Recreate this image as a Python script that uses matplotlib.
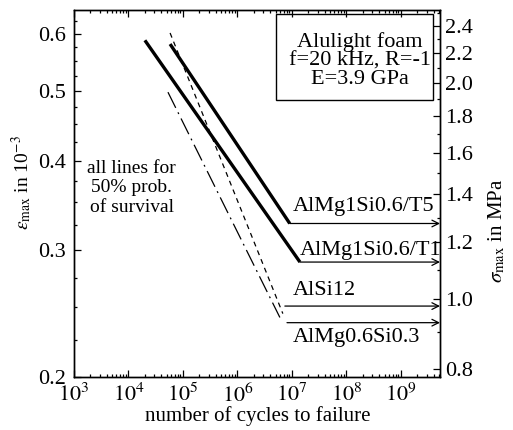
import matplotlib
matplotlib.use('Agg')
import matplotlib.pyplot as plt
from matplotlib.patches import Rectangle
from matplotlib.ticker import FixedLocator, NullFormatter, LogLocator, FuncFormatter
import numpy as np

plt.rcParams['font.family'] = ['Liberation Serif', 'DejaVu Serif']
plt.rcParams['mathtext.fontset'] = 'stix'
plt.rcParams['font.size'] = 15

# Young's modulus in GPa (sigma [MPa] = E * eps [1e-3])
E_gpa = 3.9

names = ['AlMg1Si0.6/T5', 'AlMg1Si0.6/T1', 'AlSi12', 'AlMg0.6Si0.3']
# sloped part of each S-N line
n_start = [5.8e4, 2.0e4, 5.8e4, 5.3e4]
eps_start = [0.581, 0.588, 0.602, 0.498]
n_end = [9.1e6, 1.4e7, 6.8e6, 6.0e6]
eps_end = [0.327, 0.289, 0.245, 0.242]
# horizontal run-out (fatigue limit)
n_limit = [9.1e6, 1.4e7, 7.4e6, 8.1e6]
eps_limit = [0.327, 0.289, 0.251, 0.238]

# label anchors (left, vertical centre)
lab_n = [1.05e7, 1.4e7, 1.05e7, 1.05e7]
lab_eps = [0.345, 0.300, 0.264, 0.2266]

styles = [dict(lw=2.4, ls='-'),
          dict(lw=2.4, ls='-'),
          dict(lw=0.9, ls=(0, (4, 3.5))),
          dict(lw=0.9, ls=(0, (14, 4, 1.5, 4)))]

xlim = (1e3, 5.2e9)
ylim = (0.2, 0.648)

fig = plt.figure(figsize=(5.13, 4.30), dpi=100)
ax = fig.add_axes([0.1442, 0.1233, 0.7135, 0.8535])

for i in range(len(names)):
    ax.plot([n_start[i], n_end[i]], [eps_start[i], eps_end[i]], color='k',
            solid_capstyle='butt', **styles[i])
    ax.annotate('', xy=(xlim[1], eps_limit[i]), xytext=(n_limit[i], eps_limit[i]),
                arrowprops=dict(arrowstyle='->', lw=0.9, color='k',
                                shrinkA=0, shrinkB=0, mutation_scale=12))
    ax.text(lab_n[i], lab_eps[i], names[i], ha='left', va='center', fontsize=16)

ax.set_xscale('log')
ax.set_yscale('log')
ax.set_xlim(*xlim)
ax.set_ylim(*ylim)

ax.xaxis.set_major_locator(LogLocator(base=10, numticks=20))
ax.xaxis.set_minor_locator(LogLocator(base=10, subs=np.arange(2, 10), numticks=20))
ax.xaxis.set_major_formatter(FuncFormatter(lambda v, p: r'$10^{%d}$' % round(np.log10(v))))
ax.xaxis.set_minor_formatter(NullFormatter())

ax.yaxis.set_major_locator(FixedLocator([0.2, 0.3, 0.4, 0.5, 0.6]))
ax.yaxis.set_minor_locator(FixedLocator([0.225, 0.25, 0.275, 0.325, 0.35, 0.375,
                                         0.425, 0.45, 0.475, 0.525, 0.55, 0.575, 0.625]))
ax.yaxis.set_major_formatter(FuncFormatter(lambda v, p: '%.1f' % v))
ax.yaxis.set_minor_formatter(NullFormatter())
ax.tick_params(which='both', direction='in', top=True, right=False, width=0.9)
ax.tick_params(which='major', length=5, labelsize=16)
ax.tick_params(axis='y', which='major', pad=6)
ax.tick_params(axis='x', which='major', pad=5)
ax.tick_params(which='minor', length=2.5)

ax2 = ax.twinx()
ax2.set_yscale('log')
ax2.set_ylim(ylim[0] * E_gpa, ylim[1] * E_gpa)
ax2.yaxis.set_major_locator(FixedLocator([0.8, 1.0, 1.2, 1.4, 1.6, 1.8, 2.0, 2.2, 2.4]))
ax2.yaxis.set_minor_locator(FixedLocator([0.9, 1.1, 1.3, 1.5, 1.7, 1.9, 2.1, 2.3, 2.5]))
ax2.yaxis.set_major_formatter(FuncFormatter(lambda v, p: '%.1f' % v))
ax2.yaxis.set_minor_formatter(NullFormatter())
ax2.tick_params(which='both', direction='in', width=0.9)
ax2.tick_params(which='major', length=5, labelsize=16)
ax2.tick_params(which='minor', length=2.5)

for a in (ax, ax2):
    for s in a.spines.values():
        s.set_linewidth(1.0)

ax.set_xlabel('number of cycles to failure', fontsize=15)
ax.xaxis.set_label_coords(0.503, -0.08)
ax.set_ylabel(r'$\varepsilon_{\rm max}$ in 10$^{-3}$', fontsize=14)
ax.yaxis.set_label_coords(-0.11, 0.529)
ax2.set_ylabel(r'$\sigma_{\rm max}$ in MPa', fontsize=15)
ax2.yaxis.set_label_coords(1.128, 0.398)

ax.text(0.158, 0.515, 'all lines for\n50% prob.\nof survival', transform=ax.transAxes,
        ha='center', va='center', multialignment='center', fontsize=14, linespacing=1.2)

ax.add_patch(Rectangle((0.552, 0.755), 0.429, 0.234, transform=ax.transAxes,
                       fill=False, lw=1.0, ec='k'))
ax.text(0.781, 0.862, 'Alulight foam\nf=20 kHz, R=-1\nE=3.9 GPa', transform=ax.transAxes,
        ha='center', va='center', multialignment='center', fontsize=16, linespacing=0.95)

fig.savefig('out.png', dpi=100)
